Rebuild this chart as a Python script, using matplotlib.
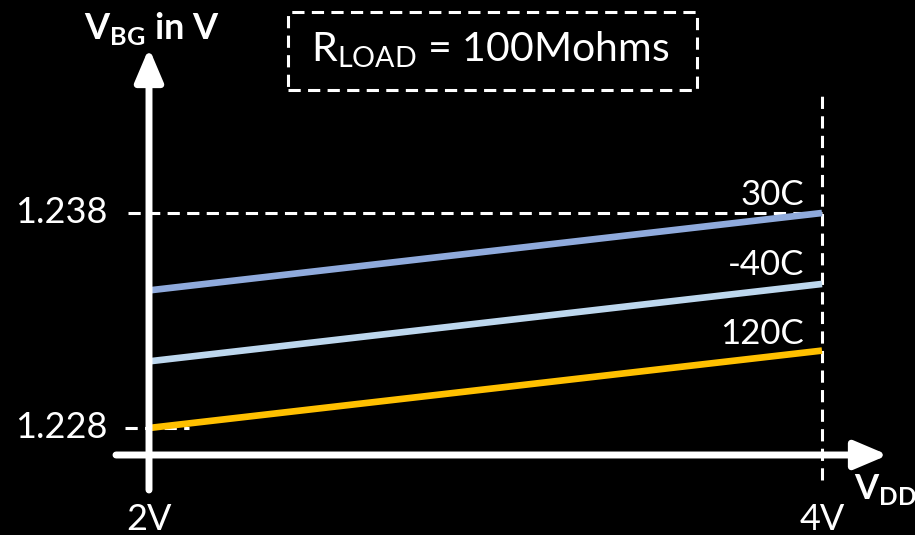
import matplotlib.pyplot as plt
from matplotlib.patches import Rectangle

# Bandgap reference output vs supply voltage, R_load = 100 Mohm
vdd = [2.0, 4.0]
temps = ["30C", "-40C", "120C"]
vbg_30 = [1.2344, 1.2380]
vbg_m40 = [1.2311, 1.2347]
vbg_120 = [1.2280, 1.2316]
colors = ["#8FAADC", "#BDD7EE", "#FFC000"]
yticks = [1.228, 1.238]
ytick_labels = ["1.228", "1.238"]
xtick_labels = ["2V", "4V"]


def main():
    plt.rcParams["font.family"] = ["Lato", "DejaVu Sans"]
    plt.rcParams["mathtext.fontset"] = "custom"
    plt.rcParams["mathtext.rm"] = "Lato"
    plt.rcParams["mathtext.bf"] = "Lato:bold"

    fig = plt.figure(figsize=(9.15, 5.35), dpi=100, facecolor="black")
    ax = fig.add_axes([0, 0, 1, 1])
    ax.set_facecolor("black")
    ax.set_xlim(1.5572, 4.2764)
    ax.set_ylim(1.223023, 1.247907)
    ax.axis("off")

    px = 1 / 336.5        # volts per pixel
    py = 0.001 / 21.5     # volts per pixel (vertical)
    dash = (0, (4, 2.4))

    # curves
    for vals, c in zip([vbg_30, vbg_m40, vbg_120], colors):
        ax.plot(vdd, vals, color=c, lw=4.8, solid_capstyle="butt", zorder=3)

    # reference dashes
    ax.plot([2 - 21 * px, vdd[1]], [yticks[1]] * 2, color="white", lw=2.2,
            ls=dash, zorder=2)
    ax.plot([2 - 24 * px, 2 + 40 * px], [yticks[0]] * 2, color="white", lw=2.2,
            ls=dash, zorder=2)
    ax.plot([vdd[1]] * 2, [yticks[0] - 52 * py, yticks[1] + 120 * py],
            color="white", lw=2.2, ls=dash, zorder=2)

    # axes with arrows
    y0 = yticks[0] - 27 * py
    head = "-|>,head_length=2.0,head_width=0.85"
    ax.annotate("", xy=(4 + 66 * px, y0), xytext=(2 - 33 * px, y0),
                arrowprops=dict(arrowstyle=head, color="white", lw=5,
                                shrinkA=0, shrinkB=0), zorder=4)
    ax.annotate("", xy=(2, yticks[1] + 165 * py), xytext=(2, y0 - 35 * py),
                arrowprops=dict(arrowstyle=head, color="white", lw=5,
                                shrinkA=0, shrinkB=0), zorder=4)

    # tick labels
    for v, lab in zip(yticks, ytick_labels):
        ax.text(2 - 42 * px, v, lab, color="white", fontsize=26,
                ha="right", va="center")
    for v, lab in zip(vdd, xtick_labels):
        ax.text(v, y0 - 65 * py, lab, color="white", fontsize=26,
                ha="center", va="center")

    # axis titles
    ax.text(2 - 65 * px, yticks[1] + 185 * py, r"$\mathbf{V}_{\mathbf{BG}}$ in V",
            color="white", fontsize=26, fontweight="bold", ha="left", va="center")
    ax.text(4 + 32 * px, y0 - 35 * py, r"$\mathbf{V}_{\mathbf{DD}}$",
            color="white", fontsize=25, fontweight="bold", ha="left", va="center")

    # curve labels
    label_y = [vbg_30[1] + 18 * py, vbg_m40[1] + 19 * py, vbg_120[1] + 17 * py]
    for name, yv in zip(temps, label_y):
        ax.text(4 - 18 * px, yv, name, color="white", fontsize=25,
                ha="right", va="center")

    # load annotation box
    ax.add_patch(Rectangle((2 + 139 * px, yticks[1] + 123 * py), 409 * px, 78 * py,
                           fc="black", ec="white", lw=2.2, ls=dash, zorder=5))
    ax.text(2 + 341 * px, yticks[1] + 163 * py, r"R$_{\mathrm{LOAD}}$ = 100Mohms",
            color="white", fontsize=29.5, ha="center", va="center", zorder=6)

    fig.savefig("out.png", dpi=100, facecolor="black")


if __name__ == "__main__":
    main()
